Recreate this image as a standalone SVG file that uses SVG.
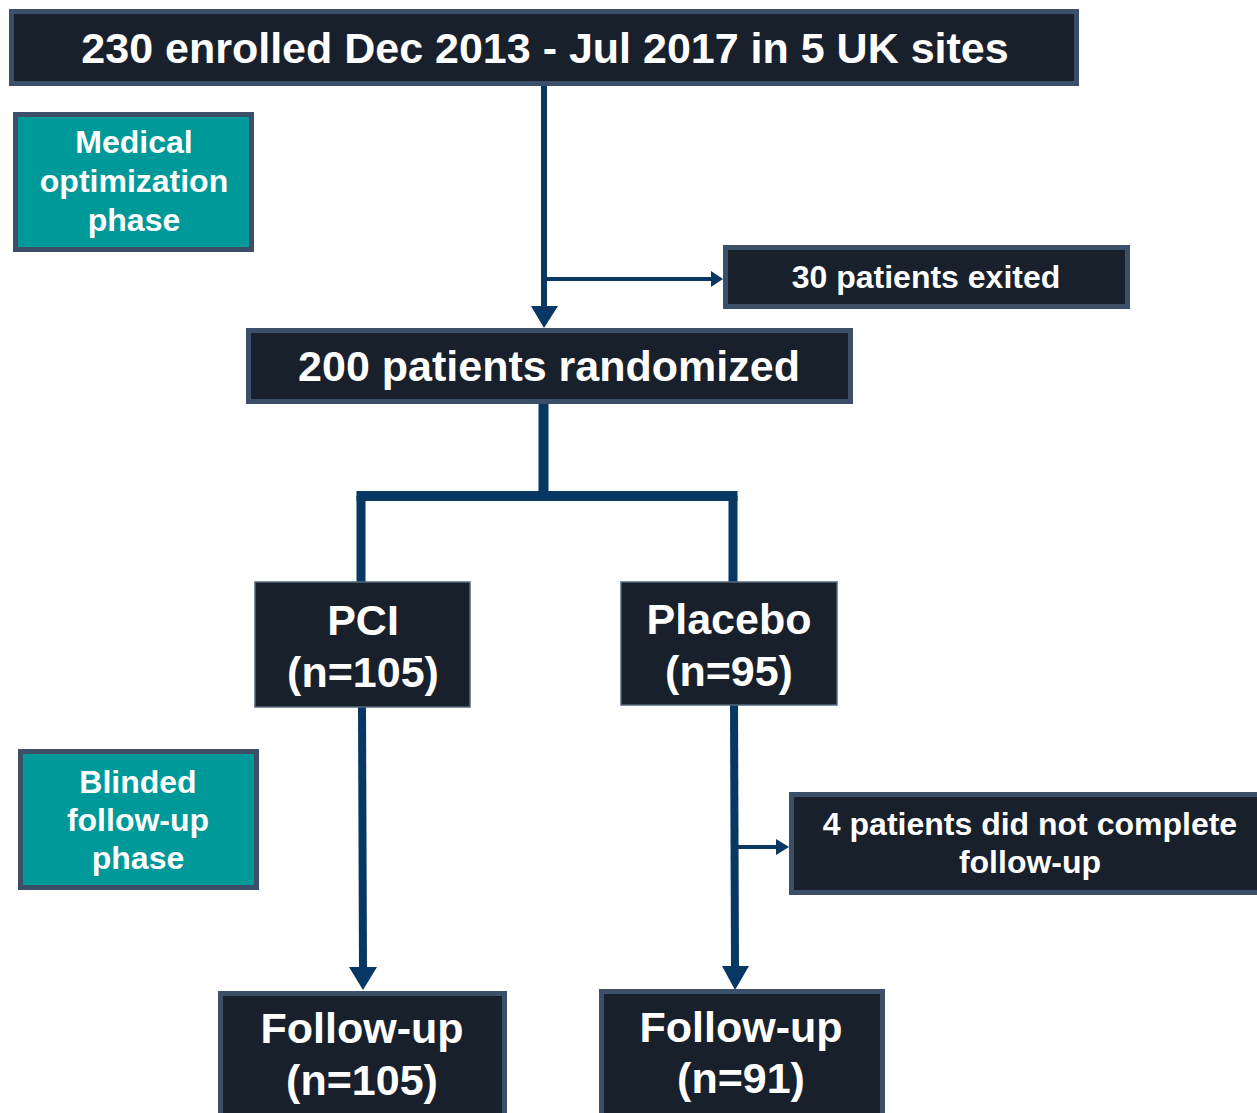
<svg xmlns="http://www.w3.org/2000/svg" width="1257" height="1113" viewBox="0 0 1257 1113">
<style>
.box{fill:#18202c;stroke:#3b5068;stroke-width:5}
.thin{fill:#18202c;stroke:#56687c;stroke-width:1.5}
.teal{fill:#009999;stroke:#3b5068;stroke-width:5}
.t{font-family:"Liberation Sans",Arial,sans-serif;font-weight:bold;fill:#ffffff;text-anchor:middle}
.big{font-size:43px}
.sm{font-size:32px}
.ln{stroke:#073763;fill:none}
.ah{fill:#073763}
</style>
<rect width="1257" height="1113" fill="#ffffff"/>
<g id="connectors">
<line class="ln" x1="544" y1="86" x2="544" y2="307" stroke-width="6"/>
<polygon class="ah" points="531,306 558,306 544,328"/>
<line class="ln" x1="547" y1="279" x2="713" y2="279" stroke-width="4"/>
<polygon class="ah" points="711,271 723,279 711,287"/>
<line class="ln" x1="543.5" y1="404" x2="543.5" y2="496" stroke-width="10"/>
<line class="ln" x1="356.5" y1="496" x2="737.5" y2="496" stroke-width="10"/>
<line class="ln" x1="361" y1="496" x2="361" y2="582" stroke-width="9"/>
<line class="ln" x1="733" y1="496" x2="733" y2="582" stroke-width="9"/>
<line class="ln" x1="362" y1="707" x2="363" y2="968" stroke-width="8"/>
<polygon class="ah" points="349,967 377,967 363,990"/>
<line class="ln" x1="734" y1="705" x2="735" y2="967" stroke-width="8"/>
<polygon class="ah" points="722,966 749,966 735,990"/>
<line class="ln" x1="738" y1="847" x2="778" y2="847" stroke-width="4"/>
<polygon class="ah" points="776,839 789,847 776,855"/>
</g>
<g id="enrolled">
<rect class="box" x="11.5" y="11.5" width="1065" height="72"/>
<text class="t big" x="545" y="63">230 enrolled Dec 2013 - Jul 2017 in 5 UK sites</text>
</g>
<g id="medical-phase">
<rect class="teal" x="15.5" y="114.5" width="236" height="135"/>
<text class="t sm" x="134" y="153">Medical</text>
<text class="t sm" x="134" y="192">optimization</text>
<text class="t sm" x="134" y="231">phase</text>
</g>
<g id="exited">
<rect class="box" x="725.5" y="247.5" width="402" height="59"/>
<text class="t sm" x="926" y="288">30 patients exited</text>
</g>
<g id="randomized">
<rect class="box" x="248.5" y="330.5" width="602" height="71"/>
<text class="t big" x="549" y="381">200 patients randomized</text>
</g>
<g id="pci">
<rect class="thin" x="255" y="582" width="215" height="125"/>
<text class="t big" x="363" y="635">PCI</text>
<text class="t big" x="363" y="687">(n=105)</text>
</g>
<g id="placebo">
<rect class="thin" x="621" y="582" width="216" height="123"/>
<text class="t big" x="729" y="634">Placebo</text>
<text class="t big" x="729" y="686">(n=95)</text>
</g>
<g id="blinded-phase">
<rect class="teal" x="20.5" y="751.5" width="236" height="136"/>
<text class="t sm" x="138" y="793">Blinded</text>
<text class="t sm" x="138" y="831">follow-up</text>
<text class="t sm" x="138" y="869">phase</text>
</g>
<g id="incomplete">
<rect class="box" x="791.5" y="794.5" width="470" height="98"/>
<text class="t sm" x="1030" y="835">4 patients did not complete</text>
<text class="t sm" x="1030" y="873">follow-up</text>
</g>
<g id="followup-pci">
<rect class="box" x="220.5" y="993.5" width="284" height="130"/>
<text class="t big" x="362" y="1043">Follow-up</text>
<text class="t big" x="362" y="1095">(n=105)</text>
</g>
<g id="followup-placebo">
<rect class="box" x="601.5" y="991.5" width="281" height="130"/>
<text class="t big" x="741" y="1042">Follow-up</text>
<text class="t big" x="741" y="1093">(n=91)</text>
</g>
</svg>
